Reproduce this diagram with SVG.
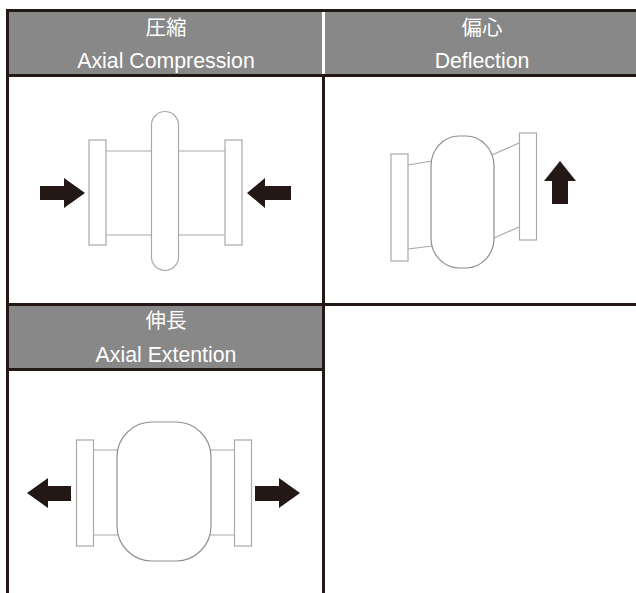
<svg xmlns="http://www.w3.org/2000/svg" width="636" height="593" viewBox="0 0 636 593">
<style>
.hd{fill:#888888}
.rule{fill:#231815}
.arrow{fill:#231815}
.part{fill:#fff;stroke:#a9a9a9;stroke-width:1.2}
.pipe{fill:none;stroke:#a9a9a9;stroke-width:1.2}
.bulge{fill:#fff;stroke:#8f8f8f;stroke-width:1.2}
text{fill:#fff;text-anchor:middle;font-size:21.300px;font-family:"Liberation Sans","Noto Sans CJK JP",sans-serif}
.cjk{font-size:20.500px}
</style>
<rect width="636" height="593" fill="#fff"/>
<g id="grid">
<rect class="hd" x="9" y="12" width="313" height="62"/>
<rect class="hd" x="325" y="12" width="311" height="62"/>
<rect class="hd" x="9" y="306" width="313" height="62"/>
<rect class="rule" x="6" y="9" width="630" height="3"/>
<rect class="rule" x="6" y="74" width="630" height="3"/>
<rect class="rule" x="6" y="303" width="630" height="3"/>
<rect class="rule" x="9" y="368" width="314" height="3"/>
<rect class="rule" x="6" y="9" width="3" height="584"/>
<rect class="rule" x="322" y="77" width="3" height="516"/>
</g>
<g id="compression">
<text class="cjk" x="166" y="35">圧縮</text>
<text x="166" y="67.500">Axial Compression</text>
<path class="pipe" d="M106 151H225M106 235H225"/>
<rect class="part" x="89" y="140" width="17" height="105"/>
<rect class="part" x="225" y="140" width="17" height="105"/>
<rect class="part" x="151.500" y="111.500" width="27" height="159" rx="13.500"/>
<path class="arrow" d="M40 186H64V178L85 193L64 208V200H40Z"/>
<path class="arrow" d="M291 186H265V178L247 193L265 208V200H291Z"/>
</g>
<g id="deflection">
<text class="cjk" x="482" y="35">偏心</text>
<text x="482" y="67.500">Deflection</text>
<path class="pipe" d="M408 165L432 161M408 249L432 246M492 155L519 143M494 238L519 227"/>
<rect class="part" x="391" y="154" width="17" height="107"/>
<rect class="part" x="519.500" y="133" width="17" height="107"/>
<rect class="bulge" x="431" y="136" width="63" height="132" rx="28" ry="30"/>
<path class="arrow" d="M560 161L576 181H568V204H552V181H544Z"/>
</g>
<g id="extension">
<text class="cjk" x="166" y="328">伸長</text>
<text x="166" y="361.500">Axial Extention</text>
<path class="pipe" d="M93 450H234M93 535H234"/>
<rect class="part" x="76.500" y="440" width="17" height="106"/>
<rect class="part" x="234.500" y="440" width="17" height="106"/>
<rect class="bulge" x="117" y="422" width="94" height="139" rx="35"/>
<path class="arrow" d="M71 486H48V478L27 493L48 508V501H71Z"/>
<path class="arrow" d="M255 486H279V478L300 493L279 508V501H255Z"/>
</g>
</svg>
